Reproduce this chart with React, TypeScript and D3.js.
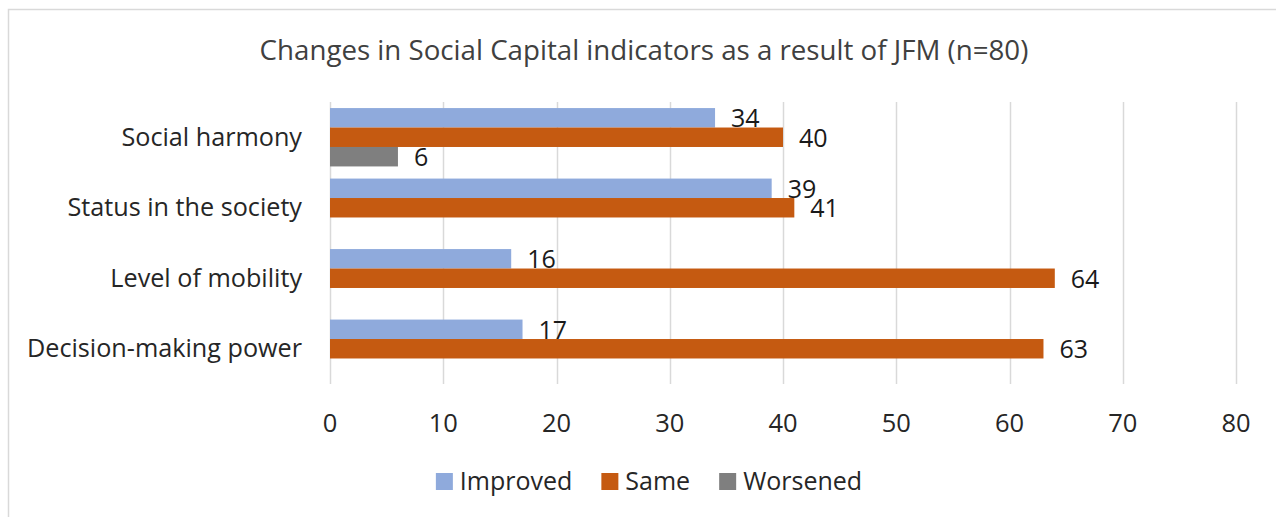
import React, { useEffect, useRef } from 'react';
import * as d3 from 'd3';

const categories = ['Social harmony', 'Status in the society', 'Level of mobility', 'Decision-making power'];
const seriesNames = ['Improved', 'Same', 'Worsened'];
const improved = [34, 39, 16, 17];
const same = [40, 41, 64, 63];
const worsened = [6, 0, 0, 0];
const xTicks = [0, 10, 20, 30, 40, 50, 60, 70, 80];
const colors = ['#8FAADC', '#C55A11', '#7F7F7F'];
const title = 'Changes in Social Capital indicators as a result of JFM (n=80)';

const W = 1276;
const H = 517;
const FONT = '"Open Sans", sans-serif';

const App: React.FC = () => {
  const legendRef = useRef<SVGGElement>(null);

  const left = 330;
  const right = 1236;
  const top = 102;
  const bottom = 384;

  const x = d3.scaleLinear().domain([0, 80]).range([left, right]);
  const y = d3.scaleBand<string>().domain(categories).range([top, bottom]).paddingInner(0.172).paddingOuter(0.086);
  const sub = d3.scaleBand<string>().domain(seriesNames).range([0, y.bandwidth()]);

  const values = [improved, same, worsened];

  // legend: measure text and center items
  useEffect(() => {
    if (!legendRef.current) return;
    const g = d3.select(legendRef.current);
    const items = g.selectAll<SVGGElement, unknown>('g.item').nodes();
    const widths = items.map(n => (n.querySelector('text') as SVGTextElement).getComputedTextLength());
    const sw = 17, gap = 7, spacing = 29;
    const total = d3.sum(widths) + items.length * (sw + gap) + spacing * (items.length - 1);
    let cx = 649 - total / 2;
    items.forEach((n, i) => {
      d3.select(n).attr('transform', `translate(${cx},0)`);
      cx += sw + gap + widths[i] + spacing;
    });
  }, []);

  return (
    <svg width={W} height={H} style={{ position: 'absolute', left: 0, top: 0, background: '#fff' }} fontFamily={FONT}>
      <rect x={8.5} y={9.5} width={W} height={H} fill="#fff" stroke="#D9D9D9" strokeWidth={1.5} />
      <text x={644} y={60} textAnchor="middle" fontSize={27.7} fill="#404040">{title}</text>

      {xTicks.map(t => (
        <g key={t}>
          <line x1={Math.round(x(t)) + 0.5} x2={Math.round(x(t)) + 0.5} y1={top} y2={bottom} stroke="#D9D9D9" strokeWidth={1.5} />
          <text x={x(t)} y={432} textAnchor="middle" fontSize={25.5} fill="#262626">{t}</text>
        </g>
      ))}

      {categories.map((c, ci) => (
        <g key={c}>
          <text x={302} y={(y(c) as number) + y.bandwidth() / 2 + 8.5} textAnchor="end" fontSize={25.2} fill="#262626">{c}</text>
          {seriesNames.map((s, si) => {
            const v = values[si][ci];
            if (!v) return null;
            const by = (y(c) as number) + (sub(s) as number);
            return (
              <g key={s}>
                <rect x={x(0)} y={by} width={x(v) - x(0)} height={sub.bandwidth()} fill={colors[si]} />
                <text x={x(v) + 16} y={by + sub.bandwidth() / 2 + 9.5} fontSize={25} fill="#1a1a1a">{v}</text>
              </g>
            );
          })}
        </g>
      ))}

      <g ref={legendRef}>
        {seriesNames.map((s, i) => (
          <g className="item" key={s}>
            <rect x={0} y={473} width={17} height={17} fill={colors[i]} />
            <text x={24} y={490} fontSize={25} fill="#262626">{s}</text>
          </g>
        ))}
      </g>
    </svg>
  );
};

export default App;
